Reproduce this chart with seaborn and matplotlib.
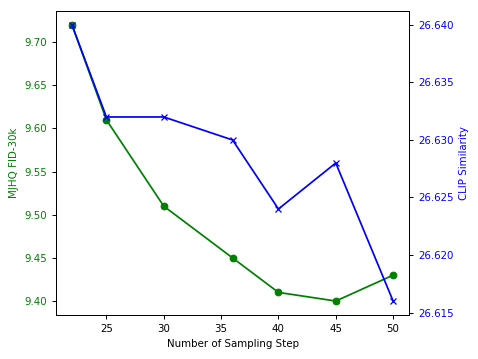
import matplotlib
matplotlib.use("Agg")
import matplotlib.pyplot as plt
import seaborn as sns

# data
steps = [22, 25, 30, 36, 40, 45, 50]
fid = [9.72, 9.61, 9.51, 9.45, 9.41, 9.40, 9.43]
clip = [26.640, 26.632, 26.632, 26.630, 26.624, 26.628, 26.616]

plt.rcParams['font.size'] = 7.4

fig, ax = plt.subplots(figsize=(4.78, 3.59), dpi=100)
fig.subplots_adjust(left=0.117, right=0.856, bottom=0.123, top=0.969)

sns.lineplot(x=steps, y=fid, ax=ax, color='green', marker='o', markersize=4.8,
             markeredgecolor='green', markeredgewidth=0.8, linewidth=1.25)
ax.set_xlabel('Number of Sampling Step')
ax.set_ylabel('MJHQ FID-30k', color='green')
ax.tick_params(axis='y', labelcolor='green', length=2.8, width=0.7)
ax.tick_params(axis='x', length=2.8, width=0.7)
ax.set_yticks([9.40, 9.45, 9.50, 9.55, 9.60, 9.65, 9.70])

ax2 = ax.twinx()
sns.lineplot(x=steps, y=clip, ax=ax2, color='blue', marker='x', markersize=4.8,
             markeredgecolor='blue', markeredgewidth=0.9, linewidth=1.25)
ax2.set_ylabel('CLIP Similarity', color='blue')
ax2.tick_params(axis='y', labelcolor='blue', length=2.8, width=0.7)
ax2.set_yticks([26.615, 26.620, 26.625, 26.630, 26.635, 26.640])
ax2.set_yticklabels(['26.615', '26.620', '26.625', '26.630', '26.635', '26.640'])

for a in (ax, ax2):
    for s in a.spines.values():
        s.set_linewidth(0.7)

plt.savefig('out.png', dpi=100)
